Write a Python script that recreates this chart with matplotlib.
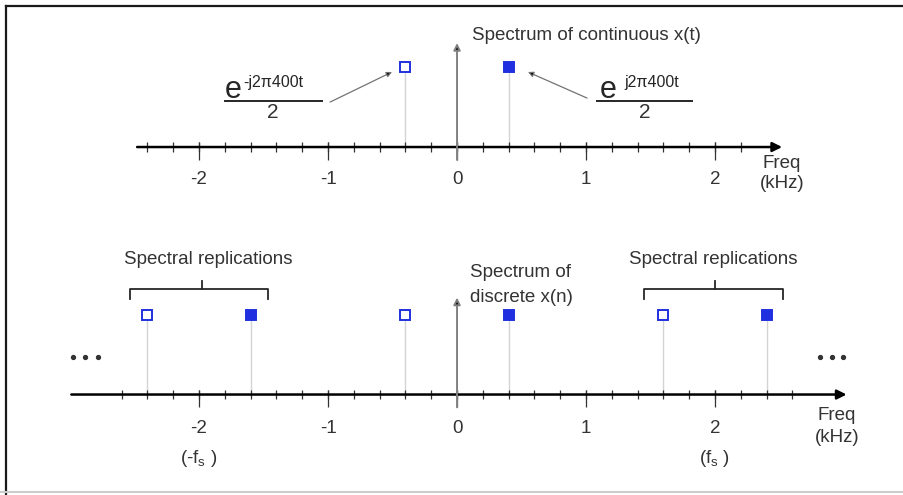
import numpy as np
import matplotlib
matplotlib.use('Agg')
from matplotlib import pyplot as plt
from matplotlib.lines import Line2D

plt.rcParams['font.family'] = ['Liberation Sans', 'DejaVu Sans']
plt.rcParams['mathtext.fontset'] = 'custom'
plt.rcParams['mathtext.rm'] = 'Liberation Sans'

# spectral lines (kHz) and magnitudes
top_freqs = [-0.4, 0.4]
top_amps = [0.5, 0.5]
top_filled = [False, True]

bot_freqs = [-2.4, -1.6, -0.4, 0.4, 1.6, 2.4]
bot_amps = [0.5, 0.5, 0.5, 0.5, 0.5, 0.5]
bot_filled = [False, True, False, True, False, True]

major_ticks = [-2, -1, 0, 1, 2]
major_labels = ['-2', '-1', '0', '1', '2']
top_minor = np.arange(-2.4, 2.21, 0.2)
bot_minor = np.arange(-2.6, 2.61, 0.2)

blue = '#2030e0'
stem_c = '#d4d4d4'
txt_c = '0.2'
fs = 13.5

fig = plt.figure(figsize=(9.04, 4.95), dpi=100)
ax_top = fig.add_axes([0, 0.5, 1, 0.5])
ax_bot = fig.add_axes([0, 0, 1, 0.5])
for ax in (ax_top, ax_bot):
    ax.set_xlim(-3.543, 3.465)
    ax.set_ylim(-0.628, 0.919)
    ax.axis('off')


def draw_axis(ax, x0, x1, minor, lab_y):
    ax.annotate('', xy=(x1, 0), xytext=(x0, 0),
                arrowprops=dict(arrowstyle='-|>', color='black', lw=1.8,
                                mutation_scale=14, shrinkA=0, shrinkB=0))
    ax.vlines(minor, -0.03, 0.03, color='0.2', lw=0.9)
    ax.vlines(major_ticks, -0.08, 0.03, color='0.2', lw=0.9)
    for t, l in zip(major_ticks, major_labels):
        ax.text(t, lab_y, l, ha='center', va='center', fontsize=fs, color=txt_c)


def draw_lines(ax, freqs, amps, filled, top):
    ax.annotate('', xy=(0, top), xytext=(0, -0.08),
                arrowprops=dict(arrowstyle='-|>', color='0.5', lw=1.4,
                                mutation_scale=10, shrinkA=0, shrinkB=0,
                                fc='black', ec='0.5'))
    for f, a, fl in zip(freqs, amps, filled):
        ax.plot([f, f], [0, a], color=stem_c, lw=1, zorder=1)
        ax.plot(f, a, 's', ms=6.5, mec=blue, mew=1.4,
                mfc=blue if fl else 'white', zorder=3)


# top panel: continuous spectrum
draw_axis(ax_top, -2.48, 2.52, top_minor, -0.206)
draw_lines(ax_top, top_freqs, top_amps, top_filled, 0.65)
ax_top.text(0.116, 0.70, 'Spectrum of continuous x(t)', fontsize=fs,
            va='center', ha='left', color=txt_c)
ax_top.text(2.52, -0.10, 'Freq', fontsize=fs, ha='center', va='center', color=txt_c)
ax_top.text(2.52, -0.225, '(kHz)', fontsize=fs, ha='center', va='center', color=txt_c)

# e^{-j2pi400t}/2 and e^{j2pi400t}/2
arrow_kw = dict(arrowstyle='-|>', color='0.45', lw=0.9, mutation_scale=8,
                shrinkA=0, shrinkB=0, fc='black')
for e_x, ex_x, exp_txt, x0, x1, two_x, a_from, a_to in [
        (-1.80, -1.66, '-j2\u03c0400t', -1.80, -1.05, -1.426,
         (-0.984, 0.281), (-0.504, 0.469)),
        (1.11, 1.30, 'j2\u03c0400t', 1.085, 1.822, 1.457,
         (1.008, 0.306), (0.550, 0.469))]:
    ax_top.text(e_x, 0.306, 'e', fontsize=22, ha='left', va='baseline', color='0.15')
    ax_top.text(ex_x, 0.405, exp_txt, fontsize=11.5, ha='left', va='center', color='0.15')
    ax_top.plot([x0, x1], [0.29, 0.29], color='0.15', lw=1.4)
    ax_top.text(two_x, 0.216, '2', fontsize=15, ha='center', va='center', color=txt_c)
    ax_top.annotate('', xy=a_to, xytext=a_from, arrowprops=arrow_kw)

# bottom panel: discrete spectrum
draw_axis(ax_bot, -2.99, 3.02, bot_minor, -0.2125)
draw_lines(ax_bot, bot_freqs, bot_amps, bot_filled, 0.606)
ax_bot.text(0.10, 0.7625, 'Spectrum of', fontsize=fs, ha='left', va='center', color=txt_c)
ax_bot.text(0.10, 0.606, 'discrete x(n)', fontsize=fs, ha='left', va='center', color=txt_c)
ax_bot.text(-2, -0.40, r'(-f$_\mathregular{s}$ )', fontsize=fs, ha='center', va='center', color=txt_c)
ax_bot.text(2, -0.40, r'(f$_\mathregular{s}$ )', fontsize=fs, ha='center', va='center', color=txt_c)
ax_bot.text(2.946, -0.131, 'Freq', fontsize=fs, ha='center', va='center', color=txt_c)
ax_bot.text(2.946, -0.269, '(kHz)', fontsize=fs, ha='center', va='center', color=txt_c)

for xl, xr, xc, yc in [(-2.535, -1.465, -1.977, -1.93), (1.45, 2.527, 2.0, 1.985)]:
    ax_bot.plot([xl, xl, xr, xr], [0.60, 0.6625, 0.6625, 0.60], color='0.15', lw=1.3)
    ax_bot.plot([xc, xc], [0.6625, 0.7125], color='0.15', lw=1.3)
    ax_bot.text(yc, 0.844, 'Spectral replications', fontsize=fs,
                ha='center', va='center', color=txt_c)

for dx in ([-2.977, -2.884, -2.783], [2.814, 2.907, 2.992]):
    ax_bot.plot(dx, [0.2375] * 3, 'o', ms=2.8, color='0.2')

# frame
fig.add_artist(Line2D([6 / 904, 6 / 904], [1 - 6 / 495, 0.0], color='0.1', lw=1.6))
fig.add_artist(Line2D([6 / 904, 1.0], [1 - 6 / 495, 1 - 6 / 495], color='0.1', lw=1.6))
fig.add_artist(Line2D([0, 1.0], [3 / 495, 3 / 495], color='0.8', lw=1.5))

fig.savefig('out.png', dpi=100)
